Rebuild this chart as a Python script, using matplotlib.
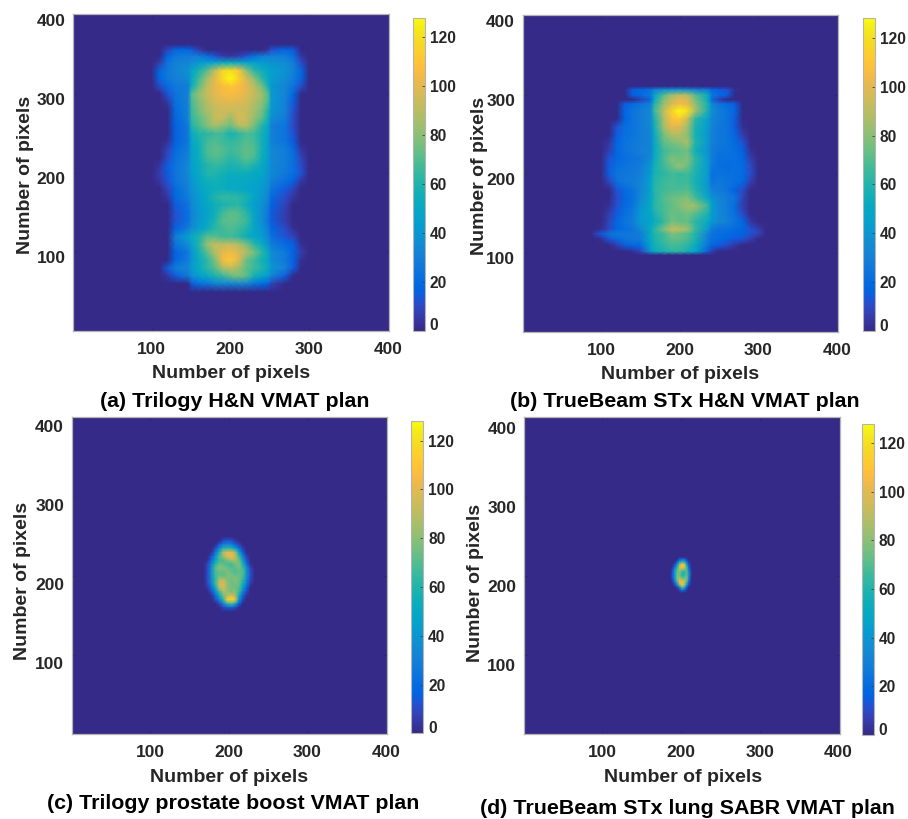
import numpy as np
import matplotlib
matplotlib.use("Agg")
import matplotlib.pyplot as plt
from matplotlib.colors import LinearSegmentedColormap
from matplotlib.transforms import ScaledTranslation

W, H, DPI = 908, 819, 100
plt.rcParams['font.family'] = ['Liberation Sans', 'DejaVu Sans']
plt.rcParams['font.weight'] = 'bold'

parula_colors = [
 (0.2081,0.1663,0.5292),(0.2116,0.1898,0.5777),(0.2123,0.2138,0.6270),(0.2081,0.2386,0.6771),
 (0.1959,0.2645,0.7279),(0.1707,0.2919,0.7792),(0.1253,0.3242,0.8303),(0.0591,0.3598,0.8683),
 (0.0117,0.3875,0.8820),(0.0060,0.4086,0.8828),(0.0165,0.4266,0.8786),(0.0329,0.4430,0.8720),
 (0.0498,0.4586,0.8641),(0.0629,0.4737,0.8554),(0.0723,0.4887,0.8467),(0.0779,0.5040,0.8384),
 (0.0793,0.5200,0.8312),(0.0749,0.5375,0.8263),(0.0641,0.5570,0.8240),(0.0488,0.5772,0.8228),
 (0.0343,0.5966,0.8199),(0.0265,0.6137,0.8135),(0.0239,0.6287,0.8038),(0.0231,0.6418,0.7913),
 (0.0228,0.6535,0.7768),(0.0267,0.6642,0.7607),(0.0384,0.6743,0.7436),(0.0590,0.6838,0.7254),
 (0.0843,0.6928,0.7062),(0.1133,0.7015,0.6859),(0.1453,0.7098,0.6646),(0.1801,0.7177,0.6424),
 (0.2178,0.7250,0.6193),(0.2586,0.7317,0.5954),(0.3022,0.7376,0.5712),(0.3482,0.7424,0.5473),
 (0.3953,0.7459,0.5244),(0.4420,0.7481,0.5033),(0.4871,0.7491,0.4840),(0.5300,0.7491,0.4661),
 (0.5709,0.7485,0.4494),(0.6099,0.7473,0.4337),(0.6473,0.7456,0.4188),(0.6834,0.7435,0.4044),
 (0.7184,0.7411,0.3905),(0.7525,0.7384,0.3768),(0.7858,0.7356,0.3633),(0.8185,0.7327,0.3498),
 (0.8507,0.7299,0.3360),(0.8824,0.7274,0.3217),(0.9139,0.7258,0.3063),(0.9450,0.7261,0.2886),
 (0.9739,0.7314,0.2666),(0.9938,0.7455,0.2403),(0.9990,0.7653,0.2164),(0.9955,0.7861,0.1967),
 (0.9880,0.8066,0.1794),(0.9789,0.8271,0.1633),(0.9697,0.8481,0.1475),(0.9626,0.8705,0.1309),
 (0.9589,0.8949,0.1132),(0.9598,0.9218,0.0948),(0.9661,0.9514,0.0755),(0.9763,0.9831,0.0538)]
parula = LinearSegmentedColormap.from_list('parula', parula_colors, N=256)

TICKS = [100, 200, 300, 400]
CB_TICKS = [0, 20, 40, 60, 80, 100, 120]
VMAX = 128
AXIS_LABEL = 'Number of pixels'

# panel (a)
a_x = [100,110,120,130,146,151,160,170,180,190,200,210,220,230,240,248,252,270,280,290,300]
a_y = [363,356,348,340,330,320,310,300,290,280,270,260,250,240,230,220,210,200,190,180,170,
       160,150,140,130,120,110,100,90,80,70,60,50]
a_vals = [
 [0]*21,
 [0,0,8,18,18,14,6,0,0,0,0,0,0,0,0,4,12,18,14,0,0],
 [0,0,18,26,28,28,28,22,12,6,4,6,12,22,28,30,30,28,22,4,0],
 [0,6,24,30,32,36,40,44,46,48,50,48,46,44,42,40,38,36,28,10,0],
 [0,18,26,32,38,48,58,70,90,115,120,110,80,62,54,48,44,38,30,18,0],
 [0,18,26,30,34,50,66,84,100,118,128,115,98,80,62,50,44,36,28,18,0],
 [0,10,20,26,28,54,72,90,100,106,110,106,100,90,76,56,40,32,24,10,0],
 [0,0,12,24,30,70,82,92,100,104,106,104,100,92,84,70,42,32,18,0,0],
 [0,0,4,22,30,68,78,88,96,98,100,98,96,88,80,68,42,30,14,0,0],
 [0,0,0,20,30,66,76,86,92,94,94,94,92,86,76,60,40,30,12,0,0],
 [0,0,0,18,30,64,72,80,92,95,82,98,94,82,72,56,36,28,10,0,0],
 [0,0,0,16,26,60,68,78,86,80,74,88,90,76,60,50,30,24,10,0,0],
 [0,0,0,16,26,52,60,62,66,66,56,62,68,66,56,46,30,24,12,0,0],
 [0,0,2,16,26,48,56,66,70,66,64,66,70,68,56,44,30,24,14,0,0],
 [0,0,8,20,28,46,54,68,72,70,66,68,72,70,56,44,34,28,20,4,0],
 [0,0,10,22,30,46,54,66,70,68,62,66,72,68,54,44,34,28,22,8,0],
 [0,4,14,24,34,44,52,60,64,62,58,60,64,58,50,42,34,28,22,10,0],
 [0,6,14,24,34,44,50,60,60,56,54,54,54,50,48,40,34,26,22,12,0],
 [0,4,12,24,32,40,48,54,56,54,50,50,50,48,44,38,30,22,16,4,0],
 [0,0,8,20,30,38,46,52,54,54,50,50,48,46,42,36,24,14,8,0,0],
 [0,0,4,18,28,36,42,50,60,64,64,62,58,48,40,32,20,10,4,0,0],
 [0,0,0,14,24,34,42,48,54,58,60,62,54,44,38,28,16,8,0,0,0],
 [0,0,0,12,22,32,40,46,54,66,72,70,62,46,36,26,14,6,0,0,0],
 [0,0,0,12,22,32,40,48,58,70,72,70,66,48,36,24,14,6,0,0,0],
 [0,0,0,16,28,36,44,52,62,66,70,66,60,48,40,28,18,10,2,0,0],
 [0,0,0,28,44,52,58,70,70,66,66,62,54,48,42,32,22,12,8,0,0],
 [0,0,0,24,36,46,60,82,92,90,92,88,78,62,52,38,28,20,16,2,0],
 [0,0,0,16,26,40,56,70,88,100,104,98,88,76,62,50,36,26,16,6,0],
 [0,0,0,18,28,40,52,62,76,104,112,100,74,66,56,48,36,26,16,2,0],
 [0,0,14,28,34,42,52,62,70,86,92,84,72,66,60,52,40,30,14,0,0],
 [0,0,4,14,26,36,44,50,58,64,72,76,72,56,48,42,32,14,0,0,0],
 [0,0,0,0,0,14,22,24,30,32,30,32,30,24,20,16,8,0,0,0,0],
 [0]*21,
]

# panel (b)
b_x = [90,100,110,120,130,140,150,163,168,180,190,200,210,220,236,241,250,260,270,280,290,300,310]
b_y = [311,307,300,294,289,280,270,260,250,240,230,220,210,200,190,180,170,160,150,140,130,125,
       118,110,102,98]
b_vals = [
 [0]*23,
 [0,0,0,0,0,14,18,22,30,36,38,38,36,30,26,18,14,12,2,0,0,0,0],
 [0,0,0,0,0,16,20,26,46,70,84,90,88,70,52,26,20,16,0,0,0,0,0],
 [0,0,0,0,0,0,6,20,52,80,92,100,98,76,50,20,6,0,0,0,0,0,0],
 [0,0,0,0,14,20,24,30,60,82,96,104,100,80,56,32,24,20,14,0,0,0,0],
 [0,0,0,0,18,24,28,34,66,92,115,128,120,86,56,36,28,24,18,0,0,0,0],
 [0,0,0,0,16,24,28,34,58,88,108,112,94,62,44,32,28,24,14,0,0,0,0],
 [0,0,0,12,22,24,28,34,56,86,100,98,84,58,42,32,26,24,14,2,0,0,0],
 [0,0,0,14,22,24,28,32,52,76,88,88,80,56,40,30,26,24,18,6,0,0,0],
 [0,0,4,18,24,26,28,32,50,72,76,80,86,60,40,30,26,24,20,12,0,0,0],
 [0,0,6,18,24,26,30,32,50,66,70,72,74,54,38,28,24,24,22,16,2,0,0],
 [0,0,12,18,22,24,26,34,52,68,78,74,78,62,42,28,22,22,22,18,6,0,0],
 [0,0,14,22,24,26,28,40,56,66,74,82,74,60,42,26,22,20,22,20,10,0,0],
 [0,0,14,24,26,26,30,42,58,62,66,64,66,58,42,22,24,22,22,20,10,0,0],
 [0,0,8,22,26,28,32,46,60,66,68,66,66,56,40,24,26,24,22,18,6,0,0],
 [0,0,0,12,20,24,32,46,62,66,68,68,70,60,40,30,28,24,16,10,0,0,0],
 [0,0,0,10,18,22,34,48,60,70,74,76,78,66,48,38,32,28,24,8,0,0,0],
 [0,0,2,12,20,24,38,50,62,68,72,78,84,84,64,44,34,28,20,6,0,0,0],
 [0,0,6,14,22,26,42,48,58,68,74,72,76,70,58,42,34,28,22,10,0,0,0],
 [0,0,8,18,24,28,42,46,52,64,76,72,72,62,50,40,34,30,24,18,4,0,0],
 [0,2,10,18,22,24,34,52,62,78,92,90,84,64,40,26,22,22,20,18,12,6,0],
 [4,14,24,26,26,26,28,50,60,66,78,74,70,60,30,24,22,20,18,16,12,8,0],
 [0,2,12,20,24,26,28,50,58,66,72,72,68,58,28,22,20,18,14,12,6,0,0],
 [0,0,0,6,14,18,20,46,56,62,68,66,62,52,24,18,14,10,4,0,0,0,0],
 [0,0,0,0,0,2,8,40,52,58,62,62,56,48,14,6,0,0,0,0,0,0,0],
 [0]*23,
]

# panel (c)
c_x = [168,173,178,183,188,193,198,203,208,213,218,223,228,233]
c_y = [250,245,240,235,230,225,220,215,210,205,200,195,190,185,180,175,170,165,160,155]
c_vals = [
 [0]*14,
 [0,0,0,0,0,8,14,10,4,0,0,0,0,0],
 [0,0,0,0,14,28,32,30,18,8,0,0,0,0],
 [0,0,0,10,32,60,62,60,46,24,6,0,0,0],
 [0,0,2,24,56,86,100,100,86,48,16,0,0,0],
 [0,0,12,36,68,82,100,104,92,66,30,6,0,0],
 [0,2,20,48,66,68,76,84,86,74,44,12,0,0],
 [0,8,32,60,74,72,68,66,74,80,58,22,2,0],
 [0,10,36,70,80,78,74,70,70,76,66,34,8,0],
 [0,10,36,68,72,72,78,74,68,72,70,36,10,0],
 [0,10,36,66,74,72,76,78,76,74,68,36,10,0],
 [0,10,34,64,86,92,78,74,78,76,62,32,8,0],
 [0,8,30,64,94,98,82,74,76,74,56,26,4,0],
 [0,4,22,50,86,98,80,76,74,70,46,16,0,0],
 [0,0,10,34,66,86,84,76,80,66,30,8,0,0],
 [0,0,2,20,50,74,86,100,86,54,18,2,0,0],
 [0,0,0,10,30,62,112,118,108,42,8,0,0,0],
 [0,0,0,0,10,32,62,70,56,18,0,0,0,0],
 [0,0,0,0,0,8,14,18,10,2,0,0,0,0],
 [0]*14,
]

# panel (d)
d_x = [186,189,192,195,198,201,204,207,210,213]
d_y = [224,221,218,215,212,209,206,203,200,197,194,191,188,185,182,179]
d_vals = [
 [0]*10,
 [0,0,0,0,14,24,22,6,0,0],
 [0,0,0,14,44,60,56,26,4,0],
 [0,0,8,30,76,104,96,50,12,0],
 [0,2,20,52,90,114,108,66,18,0],
 [0,6,34,66,90,90,84,70,26,0],
 [0,10,42,72,80,68,64,70,34,2],
 [0,12,44,74,78,62,58,72,38,2],
 [0,12,44,76,78,64,64,74,38,2],
 [0,10,40,76,88,76,74,78,34,0],
 [0,6,32,72,100,96,88,76,26,0],
 [0,2,20,56,100,108,96,64,16,0],
 [0,0,6,30,70,100,88,38,8,0],
 [0,0,0,6,22,66,54,14,0,0],
 [0,0,0,0,6,26,22,4,0,0],
 [0]*10,
]

titles = ['(a) Trilogy H&N VMAT plan', '(b) TrueBeam STx H&N VMAT plan',
          '(c) Trilogy prostate boost VMAT plan', '(d) TrueBeam STx lung SABR VMAT plan']

# layout in reference pixels
panels = [
 dict(x=a_x, y=a_y, v=a_vals, ax=(73.3, 14, 389, 331), cb=(412.7, 17.5, 425, 330.5),
      xl=(231, 373.5), yl=(26, 175), ti=(234.7, 401.5), off=5, cboff=-6),
 dict(x=b_x, y=b_y, v=b_vals, ax=(522.7, 15, 838.3, 332), cb=(863.3, 18.3, 875, 331),
      xl=(680, 374.5), yl=(479.5, 176), ti=(685, 401.5), off=5, cboff=-6),
 dict(x=c_x, y=c_y, v=c_vals, ax=(71.7, 417, 387.3, 733.7), cb=(411.3, 421, 423.3, 733.3),
      xl=(229, 777), yl=(23, 581), ti=(233, 803.5), off=8, cboff=-6),
 dict(x=d_x, y=d_y, v=d_vals, ax=(524, 417, 839.7, 733.7), cb=(862, 423.7, 874, 735),
      xl=(683, 777), yl=(476, 583), ti=(687, 808), off=10, cboff=-6),
]

fig = plt.figure(figsize=(W / DPI, H / DPI), dpi=DPI, facecolor='white')


def rect(b):
    x0, y0, x1, y1 = b
    return [x0 / W, 1 - y1 / H, (x1 - x0) / W, (y1 - y0) / H]


TXT = '#262626'
EDGE = '#b4b4b4'
XMIN, XMAX = 0.5, 401.5
for p, title in zip(panels, titles):
    ax = fig.add_axes(rect(p['ax']))
    ax.set_facecolor(parula(0.0))
    im = ax.pcolormesh(p['x'], p['y'], np.array(p['v'], float), cmap=parula, vmin=0, vmax=VMAX,
                       shading='gouraud')
    ax.set_xlim(XMIN, XMAX)
    ax.set_ylim(XMIN, XMAX)
    ax.set_xticks(TICKS)
    ax.set_yticks(TICKS)
    ax.tick_params(axis='both', direction='in', length=2.5, width=0.6, color='#2a2a55', top=True,
                   right=True, labelsize=12.5, labelcolor=TXT)
    ax.tick_params(axis='x', pad=8.2)
    ax.tick_params(axis='y', pad=5.5)
    for s in ax.spines.values():
        s.set_color(EDGE)
        s.set_linewidth(0.9)
    # the reference's y tick labels sit a little below their ticks
    shift = ScaledTranslation(0, -p['off'] / DPI, fig.dpi_scale_trans)
    for lab in ax.get_yticklabels():
        lab.set_transform(lab.get_transform() + shift)
    ax.set_xlabel(AXIS_LABEL, fontsize=14, fontweight='bold', color=TXT, va='center', ha='center')
    ax.xaxis.set_label_coords(p['xl'][0] / W, 1 - p['xl'][1] / H, transform=fig.transFigure)
    ax.set_ylabel(AXIS_LABEL, fontsize=14, fontweight='bold', color=TXT, va='center', ha='center')
    ax.yaxis.set_label_coords(p['yl'][0] / W, 1 - p['yl'][1] / H, transform=fig.transFigure)
    x0, y0, x1, y1 = p['ax']
    ax.set_title(title, fontsize=15.4, fontweight='bold', color='black', va='center', ha='center',
                 x=(p['ti'][0] - x0) / (x1 - x0), y=(y1 - p['ti'][1]) / (y1 - y0), pad=0)

    cax = fig.add_axes(rect(p['cb']))
    cbar = fig.colorbar(im, cax=cax, ticks=CB_TICKS)
    cbar.ax.tick_params(direction='in', length=2.5, width=0.6, color='#444444',
                        labelsize=11.2, labelcolor=TXT, pad=3.5)
    cbar.outline.set_edgecolor(EDGE)
    cbar.outline.set_linewidth(0.8)
    zero = cbar.ax.get_yticklabels()[0]
    zero.set_transform(zero.get_transform() + ScaledTranslation(0, -p['cboff'] / DPI, fig.dpi_scale_trans))

fig.savefig('out.png', dpi=DPI, facecolor='white')
